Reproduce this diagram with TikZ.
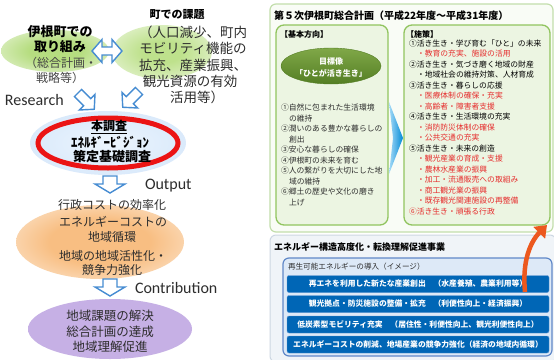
\documentclass[tikz,border=0pt]{standalone}
\usepackage{fontspec}
\newfontfamily\jp{Noto Sans CJK JP}
\newfontfamily\calfont{Carlito}
\usetikzlibrary{arrows.meta}
\definecolor{arrowblue}{RGB}{70,140,210}
\definecolor{txt}{RGB}{45,45,45}
\definecolor{txtgray}{RGB}{70,70,70}
\definecolor{tred}{RGB}{230,45,45}
\definecolor{lav}{RGB}{198,176,229}
\definecolor{lav2}{RGB}{190,160,226}
\definecolor{lb1}{RGB}{236,245,253}
\definecolor{lb2}{RGB}{212,230,250}
\definecolor{glowgreen}{RGB}{182,221,128}
\definecolor{glowgreen2}{RGB}{190,225,140}
\definecolor{gloworange}{RGB}{248,190,130}
\definecolor{ringred}{RGB}{235,20,20}
\definecolor{panelborder}{RGB}{195,222,172}
\definecolor{panelfill}{RGB}{249,252,246}
\definecolor{boxfill}{RGB}{236,245,226}
\definecolor{boxborder}{RGB}{145,196,95}
\definecolor{goaltop}{RGB}{128,168,72}
\definecolor{goalbot}{RGB}{84,126,36}
\definecolor{chevL}{RGB}{165,218,247}
\definecolor{chevR}{RGB}{0,138,214}
\definecolor{orangearrow}{RGB}{236,88,30}
\definecolor{botfill}{RGB}{240,244,248}
\definecolor{botborder}{RGB}{205,215,226}
\definecolor{innerfill}{RGB}{221,233,247}
\definecolor{innerborder}{RGB}{96,136,200}
\definecolor{barblue}{RGB}{0,102,182}
\definecolor{barborder}{RGB}{95,150,210}
\pgfdeclareradialshading{lavglow}{\pgfpoint{0bp}{0bp}}{color(0bp)=(lav);color(32bp)=(lav);color(47bp)=(white);color(50bp)=(white)}
\pgfdeclareradialshading{orglow}{\pgfpoint{0bp}{0bp}}{color(0bp)=(gloworange);color(15bp)=(gloworange);color(46bp)=(white);color(50bp)=(white)}
\pgfdeclareradialshading{grglow}{\pgfpoint{0bp}{0bp}}{color(0bp)=(glowgreen);color(12bp)=(glowgreen);color(46bp)=(white);color(50bp)=(white)}
\pgfdeclareradialshading{grglowb}{\pgfpoint{0bp}{0bp}}{color(0bp)=(glowgreen2);color(10bp)=(glowgreen2);color(46bp)=(white);color(50bp)=(white)}
\pgfdeclareradialshading{redglow}{\pgfpoint{0bp}{0bp}}{color(0bp)=(lb1);color(34bp)=(lb2);color(42bp)=(lav2);color(50bp)=(white)}
\newcommand\hollowarrow[6]{\begin{scope}[shift={#1},rotate=#2]
\draw[harrow] (0,-#4) -- ({#3-#6},-#4) -- ({#3-#6},-#5) -- (#3,0) -- ({#3-#6},#5) -- ({#3-#6},#4) -- (0,#4) -- cycle;
\end{scope}}
\begin{document}
\begin{tikzpicture}[x=1pt,y=-1pt,
  every node/.style={inner sep=0pt,outer sep=0pt},
  harrow/.style={draw=arrowblue,fill=white,line width=1.4pt,line join=miter},
  jr/.style={font={\jp\fontsize{#1}{#1}\selectfont},text=txt},
  jb/.style={font={\jp\bfseries\fontsize{#1}{#1}\selectfont},text=black},
  lat/.style={font={\calfont\fontsize{16}{16}\selectfont},text=txt,anchor=west},
  lst/.style={font={\jp\fontsize{7.8}{7.8}\selectfont},anchor=west},
  bar/.style={draw=barborder,fill=barblue,rounded corners=2pt,minimum width=262pt,minimum height=17pt,text=white,font={\jp\bfseries\fontsize{7.8}{7.8}\selectfont}}]
\useasboundingbox (0,0) rectangle (554,359);
\fill[white] (0,0) rectangle (554,359);

% ---------- left column glows ----------
\shade[shading=grglow] (55,51) ellipse [x radius=54pt,y radius=21pt];
\shade[shading=grglowb] (162,52) ellipse [x radius=50pt,y radius=27pt];
\shade[shading=orglow] (100,242) ellipse [x radius=84pt,y radius=37pt];
\shade[shading=lavglow] (110,329) ellipse [x radius=82pt,y radius=30pt];

% ---------- top left texts ----------
\node[jb=13] (iA) at (60,32) {伊根町での};
\node[jb=13] (iB) at (60,47) {取り組み};
\node[jr=12,text=txtgray] (iC) at (61,63) {（総合計画・};
\node[jr=12,text=txtgray] (iD) at (60,78) {戦略等）};

\node[jb=11] (kA) at (177,15) {町での課題};
\node[jr=13.5] (kB) at (193,32) {（人口減少、町内};
\node[jr=13.5] (kC) at (193,48) {モビリティ機能の};
\node[jr=13.5] (kD) at (193,65) {拡充、産業振興、};
\node[jr=13.5] (kE) at (190,81) {観光資源の有効};
\node[jr=13.5] (kF) at (197,97) {活用等）};

% double arrow
\draw[harrow] (92,51) -- (102,39.5) -- (102,47) -- (112,47) -- (112,39.5) -- (122,51) -- (112,62.5) -- (112,55) -- (102,55) -- (102,62.5) -- cycle;

% diagonal arrows
\hollowarrow{(78,93)}{-45}{23}{5}{11}{10}
\hollowarrow{(139,91)}{-135}{23}{5}{11}{10}

\node[lat] (res) at (5,100) {Research};

% ---------- main survey ellipse ----------
\shade[shading=redglow] (108,143) ellipse [x radius=78pt,y radius=32pt];
\draw[ringred,line width=5pt] (108,143) ellipse [x radius=70pt,y radius=25pt];
\node[jb=12] (sA) at (109,127) {\underline{本調査}};
\node[jb=13] (sB) at (110,142) {ｴﾈﾙｷﾞｰﾋﾞｼﾞｮﾝ};
\node[jb=13] (sC) at (112,157) {策定基礎調査};

\hollowarrow{(110,176)}{-90}{17}{7}{15}{9}
\node[lat] (out) at (145,186) {Output};

\node[jr=12] (oA) at (112,205) {行政コストの効率化};
\node[jr=12] (oB) at (113,222) {エネルギーコストの};
\node[jr=12] (oC) at (112,237) {地域循環};
\node[jr=12] (oD) at (113,256) {地域の地域活性化・};
\node[jr=12] (oE) at (112,270) {競争力強化};

\hollowarrow{(110,279)}{-90}{17}{7}{15}{9}
\node[lat] (con) at (135,288) {Contribution};

\node[jr=12.5] (pA) at (110,316) {地域課題の解決};
\node[jr=12.5] (pB) at (110,332) {総合計画の達成};
\node[jr=12.5] (pC) at (110,347) {地域理解促進};

% ---------- right top panel ----------
\draw[panelborder,fill=panelfill,line width=1.2pt,rounded corners=6pt] (270,4) rectangle (553,232);
\node[jb=10,anchor=west] (title) at (274,16) {第５次伊根町総合計画（平成22年度～平成31年度）};

\draw[boxborder,fill=boxfill,line width=1.3pt,rounded corners=8pt] (276,25) rectangle (388,225);
\draw[boxborder,fill=boxfill,line width=1.3pt,rounded corners=8pt] (404,25) rectangle (550,225);

\node[jb=8,anchor=west] (kh) at (280,34) {【基本方向】};
\shade[top color=goaltop,bottom color=goalbot,draw=goalbot] (331,66) ellipse [x radius=50pt,y radius=18pt];
\node[jb=8,text=white] (gA) at (331,61) {目標像};
\node[jb=8,text=white] (gB) at (331,73) {「ひとが活き生き」};

\foreach \yy/\xx/\tx [count=\i] in {
108/281/①自然に包まれた生活環境,
118.5/289/の維持,
129/281/②潤いのある豊かな暮らしの,
139.5/289/創出,
150/281/③安心な暮らしの確保,
160.5/281/④伊根町の未来を育む,
171/281/⑤人の繋がりを大切にした地,
181.5/289/域の維持,
192/281/⑥郷土の歴史や文化の磨き,
202.5/289/上げ}
  \node[lst,text=txt] (L\i) at (\xx,\yy) {\tx};

\shade[left color=chevL,right color=chevR] (389,102) -- (403,138) -- (389,174) -- (393,138) -- cycle;

\node[jb=8,anchor=west] (sh) at (406,34) {【施策】};
\foreach \yy/\xx/\cc/\tx [count=\i] in {
43.5/409/black/①活き生き・学び育む「ひと」の未来,
54/417/tred/・教育の充実、施設の活用,
64.5/409/black/②活き生き・気づき磨く地域の財産,
75/417/black/・地域社会の維持対策、人材育成,
85.5/409/black/③活き生き・暮らしの応援,
96/417/tred/・医療体制の確保・充実,
106.5/417/tred/・高齢者・障害者支援,
117/409/black/④活き生き・生活環境の充実,
127.5/417/tred/・消防防災体制の確保,
138/417/tred/・公共交通の充実,
148.5/409/black/⑤活き生き・未来の創造,
159/417/tred/・観光産業の育成・支援,
169.5/417/tred/・農林水産業の振興,
180/417/tred/・加工・流通販売への取組み,
190.5/417/tred/・商工観光業の振興,
201/417/tred/・既存観光関連施設の再整備,
211.5/409/tred/⑥活き生き・頑張る行政}
  \node[lst,text=\cc] (R\i) at (\xx,\yy) {\tx};

% ---------- bottom panel ----------
\draw[botborder,fill=botfill,line width=1pt,rounded corners=6pt] (270,235) rectangle (556,362);
\node[jb=9,anchor=west] (bt) at (274,247) {エネルギー構造高度化・転換理解促進事業};
\draw[innerborder,fill=innerfill,line width=1.2pt,rounded corners=6pt] (283,258) rectangle (552,356);
\node[jr=7.6,anchor=west] (it) at (288,267) {再生可能エネルギーの導入（イメージ）};
\node[bar] (b1) at (418,284) {再エネを利用した新たな産業創出　（水産養殖、農業利用等）};
\node[bar] (b2) at (418,304) {観光拠点・防災施設の整備・拡充　（利便性向上・経済振興）};
\node[bar] (b3) at (418,324.5) {低炭素型モビリティ充実　（居住性・利便性向上、観光利便性向上）};
\node[bar] (b4) at (418,344.5) {エネルギーコストの削減、地場産業の競争力強化（経済の地域内循環）};

% orange curved arrow
\coordinate (oaS) at (525,292);
\coordinate (oaE) at (547,225);
\draw[orangearrow,line width=4.5pt,-{Triangle[length=11pt,width=16pt]}] (oaS) .. controls (522,262) and (530,242) .. (oaE);
\end{tikzpicture}
\end{document}
